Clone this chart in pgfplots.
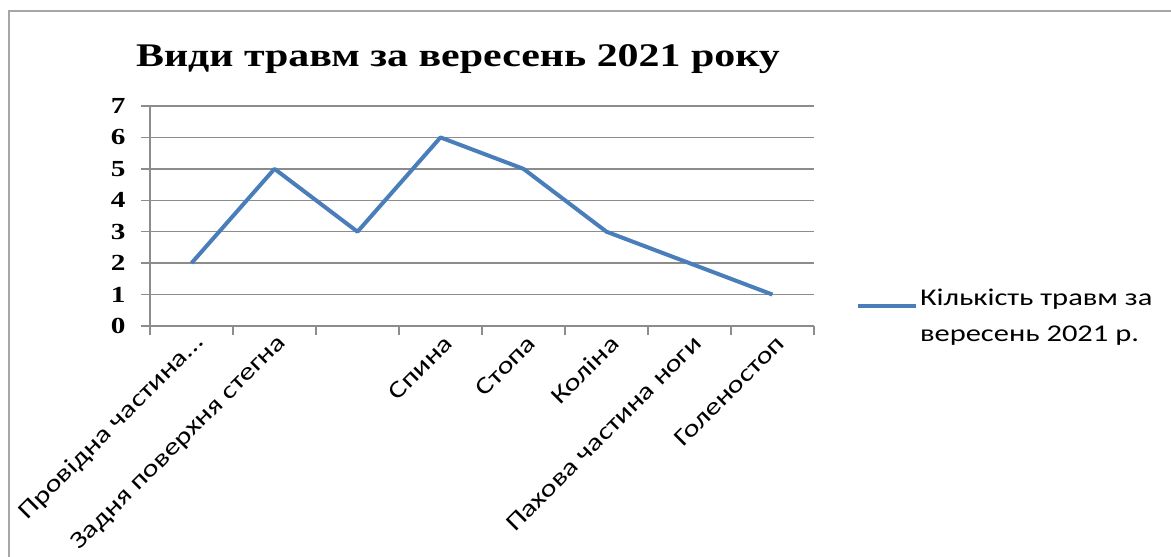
\documentclass[border=0pt]{standalone}
\usepackage{pgfplots}
\pgfplotsset{compat=1.18}
\usepackage{fontspec}
% the reference is stretched sideways, so the fonts are widened to match
\setmainfont{Carlito}[FakeStretch=1.27]
\newfontfamily\serifbold{Liberation Serif}[FakeStretch=1.27]

\definecolor{lineblue}{HTML}{4A7EBB}
\definecolor{gridgray}{HTML}{8C8C8C}
\definecolor{framegray}{HTML}{A6A6A6}

\begin{document}
\begin{tikzpicture}[x=1pt,y=1pt]
% canvas + outer frame (left and top only)
\path[use as bounding box] (0,0) rectangle (1171,557);
\draw[framegray, line width=2pt] (9,0) -- (9,546) -- (1171,546);

% title
\node[anchor=base, font=\serifbold\fontsize{33}{36}\selectfont\bfseries]
  at (458,490) {Види травм за вересень 2021 року};

\begin{axis}[
    at={(150pt,231pt)}, anchor=south west,
    scale only axis,
    width=664pt, height=220pt,
    xmin=-0.5, xmax=7.5,
    ymin=0, ymax=7,
    axis x line*=bottom,
    axis y line*=left,
    axis line style={gridgray, line width=1.5pt},
    xtick={0,1,2,3,4,5,6,7},
    xticklabels={{Провідна частина\ldots}, {Задня поверхня стегна}, {}, {Спина}, {Стопа}, {Коліна}, {Пахова частина ноги}, {Голеностоп}},
    minor xtick={-0.5,0.5,1.5,2.5,3.5,4.5,5.5,6.5,7.5},
    major x tick style={draw=none},
    minor x tick style={gridgray, line width=1.5pt},
    minor tick length=9pt,
    ytick={0,1,2,3,4,5,6,7},
    major y tick style={gridgray, line width=1.5pt},
    major tick length=9pt,
    tick align=outside,
    ymajorgrids,
    grid style={gridgray, line width=1.5pt},
    xticklabel style={font=\fontsize{24}{26}\selectfont, rotate=45, anchor=east, xshift=6pt, yshift=-9pt},
    yticklabel style={font=\serifbold\fontsize{23}{26}\selectfont\bfseries, xshift=-12pt},
    /pgf/number format/assume math mode=true,
    legend style={draw=none, fill=none, at={(1.063,0.18)}, anchor=north west,
      inner sep=0pt, font=\fontsize{24}{36}\selectfont,
      nodes={align=left, inner sep=2pt}},
    legend cell align=left,
    legend image code/.code={\draw[#1] (0pt,10pt) -- (58pt,10pt);},
]
\addplot[lineblue, line width=4pt, line join=round] coordinates {
    (0,2) (1,5) (2,3) (3,6) (4,5) (5,3) (6,2) (7,1)
};
\addlegendentry{Кількість травм за\\вересень 2021 р.}
\end{axis}
\end{tikzpicture}
\end{document}
